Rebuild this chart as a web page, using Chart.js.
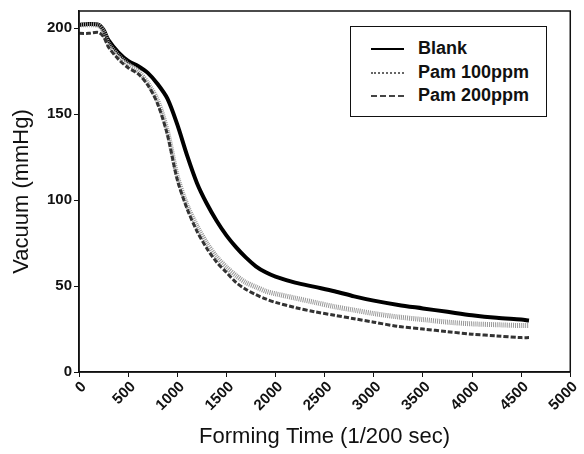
<!DOCTYPE html>
<html>
<head>
<meta charset="utf-8">
<script src="https://cdn.jsdelivr.net/npm/chart.js@4"></script>
<style>
  body { margin: 0; background: #fff; }
  #wrap { position: relative; width: 584px; height: 454px; }
  #legend {
    position: absolute; left: 350px; top: 26px; width: 195px; height: 89px;
    border: 1px solid #111; background: #fff;
    font-family: Arial, "Liberation Sans", sans-serif; font-size: 18px; font-weight: bold; color: #111;
  }
  .row { position: absolute; left: 0; height: 22px; line-height: 22px; }
  .sample { position: absolute; left: 20px; top: 11px; width: 33px; height: 0; }
  .lbl { position: absolute; left: 67px; top: 0; white-space: nowrap; }
</style>
</head>
<body>
<div id="wrap">
  <canvas id="chart" width="584" height="454"></canvas>
  <div id="legend"></div>
</div>
<script>
const times = [0, 100, 200, 250, 300, 400, 500, 600, 700, 800, 900, 1000, 1100, 1200, 1300, 1400, 1500,
  1600, 1700, 1800, 1900, 2000, 2200, 2400, 2600, 2800, 3000, 3250, 3500, 3750, 4000, 4250, 4500, 4580];

const blank = [202, 202.5, 202, 199, 193, 186, 181, 178, 174, 167.5, 159, 144, 126, 110, 98, 88, 79.5,
  72.5, 66.5, 61.5, 58, 55.5, 52, 49.5, 47, 44, 41.5, 39, 37, 35, 33, 31.5, 30.5, 30];
const pam100 = [202, 202, 201.5, 198, 191, 184, 179, 175, 168, 158, 140, 114, 97, 85, 75, 67, 61,
  56, 52, 49.5, 47, 45.5, 43, 40.5, 38, 36, 34, 32, 30.5, 29, 28, 27.5, 27, 27];
const pam200 = [197, 197, 197.5, 195, 189, 182, 177, 173.5, 167, 156, 138, 112, 95, 82, 72, 64, 58,
  52, 48, 45, 42.5, 40.5, 37.5, 35, 33, 31, 29, 26.5, 25, 23.5, 22, 21, 20, 20];

const seriesNames = ['Blank', 'Pam 100ppm', 'Pam 200ppm'];
const xTicks = [0, 500, 1000, 1500, 2000, 2500, 3000, 3500, 4000, 4500, 5000];
const yTicks = [0, 50, 100, 150, 200];

const pts = arr => arr.map((v, i) => ({ x: times[i], y: v }));
const font = 'Arial, "Liberation Sans", sans-serif';

const boxPlugin = {
  id: 'box',
  afterDraw(c) {
    const a = c.chartArea, ctx = c.ctx;
    ctx.save();
    ctx.strokeStyle = '#111';
    ctx.lineWidth = 1.5;
    ctx.strokeRect(a.left, a.top, a.right - a.left, a.bottom - a.top);
    ctx.restore();
  }
};

new Chart(document.querySelector('#chart').getContext('2d'), {
  type: 'line',
  data: {
    datasets: [
      {
        label: seriesNames[2],
        data: pts(pam200),
        borderColor: '#333',
        borderWidth: 3,
        borderDash: [5, 2],
        pointRadius: 0,
        tension: 0.3
      },
      {
        label: seriesNames[1],
        data: pts(pam100),
        borderColor: '#999',
        borderWidth: 5,
        borderDash: [1, 1],
        pointRadius: 0,
        tension: 0.3
      },
      {
        label: seriesNames[0],
        data: pts(blank),
        borderColor: '#000',
        borderWidth: 4,
        pointRadius: 0,
        tension: 0.3
      }
    ]
  },
  options: {
    responsive: false,
    animation: false,
    layout: { padding: { top: 5, right: 4 } },
    plugins: { legend: { display: false }, tooltip: { enabled: false } },
    scales: {
      x: {
        type: 'linear',
        min: 0,
        max: 5000,
        afterFit: s => { s.height = 82; },
        afterBuildTicks: s => { s.ticks = xTicks.map(v => ({ value: v })); },
        grid: { display: true, drawOnChartArea: false, color: '#111', tickLength: 5 },
        border: { color: '#111', width: 1.5 },
        ticks: {
          autoSkip: false, minRotation: 45, maxRotation: 45, padding: 1, labelOffset: 5,
          color: '#111', font: { family: font, size: 15, weight: 'bold' },
          callback: v => String(v)
        },
        title: {
          display: true, text: 'Forming Time (1/200 sec)', color: '#111',
          font: { family: font, size: 22 }, padding: { top: 0, bottom: 4 }
        }
      },
      y: {
        min: 0,
        max: 210,
        afterFit: s => { s.width = 79; },
        afterBuildTicks: s => { s.ticks = yTicks.map(v => ({ value: v })); },
        grid: { display: true, drawOnChartArea: false, color: '#111', tickLength: 5 },
        border: { color: '#111', width: 1.5 },
        ticks: {
          padding: 2, color: '#111', font: { family: font, size: 15, weight: 'bold' },
          callback: v => String(v)
        },
        title: {
          display: true, text: 'Vacuum (mmHg)', color: '#111',
          font: { family: font, size: 22 }, padding: { top: 9, bottom: 0 }
        }
      }
    }
  },
  plugins: [boxPlugin]
});

// legend box drawn as html
const legendStyles = [
  'border-top: 2px solid #000;',
  'border-top: 2px dotted #666;',
  'border-top: 2px dashed #444;'
];
const legend = document.querySelector('#legend');
seriesNames.forEach((name, i) => {
  const row = document.createElement('div');
  row.className = 'row';
  row.style.top = (10 + i * 23.5) + 'px';
  row.innerHTML = '<div class="sample" style="' + legendStyles[i] + '"></div><div class="lbl">' + name + '</div>';
  legend.appendChild(row);
});
</script>
</body>
</html>
